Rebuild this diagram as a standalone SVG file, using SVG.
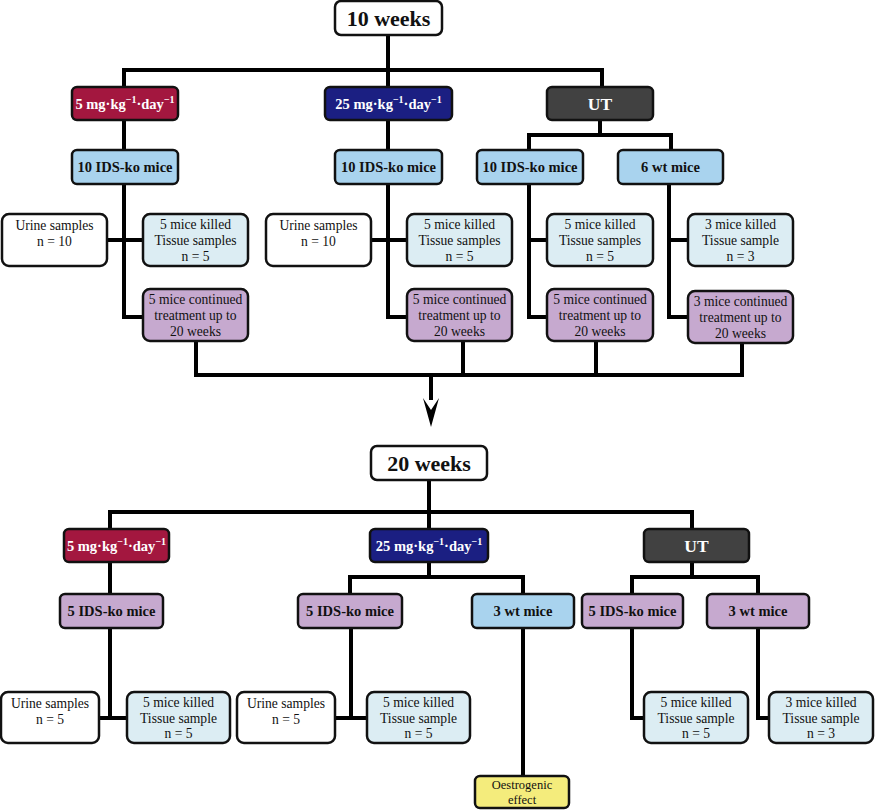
<svg xmlns="http://www.w3.org/2000/svg" width="875" height="810" viewBox="0 0 875 810">
<defs>
<style>
.n{stroke:#111;stroke-width:2.5}
.w{fill:#fff}.r{fill:#a3173f}.b{fill:#1b1f82}.g{fill:#414141}.lb{fill:#a9d3ee}.c{fill:#dcedf3}.p{fill:#c6a9cf}.y{fill:#f4ec7c}
text{font-family:'Liberation Serif','DejaVu Serif',serif;text-anchor:middle;fill:#111}
.h{font-weight:bold;font-size:14.5px}
.hw{font-weight:bold;font-size:14.5px;fill:#fff}
.t{font-size:13.6px}
.big{font-weight:bold;font-size:22px}
.ut{font-weight:bold;font-size:17.5px;fill:#fff}
.sm{font-size:12.5px}
.con{fill:none;stroke:#000;stroke-width:4}
</style>
</defs>

<g id="connectors">
<path class="con" d="M388,35V70M124,87V70H602V87M388,70V87"/>
<path class="con" d="M124,120V150M388,120V150M600,120V135M529,150V135H671V150"/>
<path class="con" d="M124,184V317H143M107,240H143"/>
<path class="con" d="M388,184V317H407M371,240H407"/>
<path class="con" d="M529,184V317H547M529,240H547"/>
<path class="con" d="M669,184V317H688M669,240H688"/>
<path class="con" d="M196,341V375H742V343M463,341V375M596,341V375"/>
<path class="con" d="M431,375V400"/>
<path d="M423,398 L431,410 L439,398 L431,427 Z" fill="#000"/>
<path class="con" d="M429,480V512M110,529V512H692V529M429,512V529"/>
<path class="con" d="M110,562V594M429,562V577M350,594V577H523V594M692,562V577M632,594V577H758V594"/>
<path class="con" d="M110,628V718H127M99,718H127"/>
<path class="con" d="M351,628V718H367M335,718H367"/>
<path class="con" d="M523,628V776"/>
<path class="con" d="M632,628V718H644M758,628V718H769"/>
</g>

<g id="w10"><rect class="n w" x="335" y="1" width="107" height="34" rx="6"/><text class="big" x="388.5" y="26">10 weeks</text></g>

<g id="d5a"><rect class="n r" x="72" y="87" width="106" height="33" rx="5"/><text class="hw" x="125" y="109">5 mg·kg<tspan dy="-6" font-size="10">−1</tspan><tspan dy="6">·day</tspan><tspan dy="-6" font-size="10">−1</tspan></text></g>
<g id="d25a"><rect class="n b" x="325" y="87" width="127" height="33" rx="5"/><text class="hw" x="388.5" y="109">25 mg·kg<tspan dy="-6" font-size="10">−1</tspan><tspan dy="6">·day</tspan><tspan dy="-6" font-size="10">−1</tspan></text></g>
<g id="uta"><rect class="n g" x="547" y="87" width="106" height="33" rx="5"/><text class="ut" x="600" y="110">UT</text></g>

<g id="ko1"><rect class="n lb" x="72" y="150" width="106" height="34" rx="5"/><text class="h" x="125" y="172">10 IDS-ko mice</text></g>
<g id="ko2"><rect class="n lb" x="335" y="150" width="107" height="34" rx="5"/><text class="h" x="388.5" y="172">10 IDS-ko mice</text></g>
<g id="ko3"><rect class="n lb" x="477" y="150" width="106" height="34" rx="5"/><text class="h" x="530" y="172">10 IDS-ko mice</text></g>
<g id="wt6"><rect class="n lb" x="618" y="150" width="105" height="34" rx="5"/><text class="h" x="670.5" y="172">6 wt mice</text></g>

<g id="u1"><rect class="n w" x="2" y="214" width="105" height="52" rx="7"/><text class="t" x="54.5" y="230">Urine samples<tspan x="54.5" dy="16">n = 10</tspan></text></g>
<g id="k1"><rect class="n c" x="143" y="214" width="105" height="52" rx="7"/><text class="t" x="195.5" y="229">5 mice killed<tspan x="195.5" dy="16">Tissue samples</tspan><tspan x="195.5" dy="15.5">n = 5</tspan></text></g>
<g id="u2"><rect class="n w" x="266" y="214" width="105" height="52" rx="7"/><text class="t" x="318.5" y="230">Urine samples<tspan x="318.5" dy="16">n = 10</tspan></text></g>
<g id="k2"><rect class="n c" x="407" y="214" width="105" height="52" rx="7"/><text class="t" x="459.5" y="229">5 mice killed<tspan x="459.5" dy="16">Tissue samples</tspan><tspan x="459.5" dy="15.5">n = 5</tspan></text></g>
<g id="k3"><rect class="n c" x="547" y="214" width="106" height="52" rx="7"/><text class="t" x="600" y="229">5 mice killed<tspan x="600" dy="16">Tissue samples</tspan><tspan x="600" dy="15.5">n = 5</tspan></text></g>
<g id="k4"><rect class="n c" x="688" y="214" width="105" height="52" rx="7"/><text class="t" x="740.5" y="229">3 mice killed<tspan x="740.5" dy="16">Tissue sample</tspan><tspan x="740.5" dy="15.5">n = 3</tspan></text></g>

<g id="c1"><rect class="n p" x="143" y="289" width="105" height="52" rx="7"/><text class="t" x="195.5" y="304">5 mice continued<tspan x="195.5" dy="16">treatment up to</tspan><tspan x="195.5" dy="15.5">20 weeks</tspan></text></g>
<g id="c2"><rect class="n p" x="407" y="289" width="105" height="52" rx="7"/><text class="t" x="459.5" y="304">5 mice continued<tspan x="459.5" dy="16">treatment up to</tspan><tspan x="459.5" dy="15.5">20 weeks</tspan></text></g>
<g id="c3"><rect class="n p" x="547" y="289" width="106" height="52" rx="7"/><text class="t" x="600" y="304">5 mice continued<tspan x="600" dy="16">treatment up to</tspan><tspan x="600" dy="15.5">20 weeks</tspan></text></g>
<g id="c4"><rect class="n p" x="688" y="291" width="105" height="52" rx="7"/><text class="t" x="740.5" y="306">3 mice continued<tspan x="740.5" dy="16">treatment up to</tspan><tspan x="740.5" dy="15.5">20 weeks</tspan></text></g>

<g id="w20"><rect class="n w" x="371" y="446" width="116" height="34" rx="6"/><text class="big" x="429" y="471">20 weeks</text></g>

<g id="d5b"><rect class="n r" x="64" y="529" width="105" height="33" rx="5"/><text class="hw" x="116.5" y="551">5 mg·kg<tspan dy="-6" font-size="10">−1</tspan><tspan dy="6">·day</tspan><tspan dy="-6" font-size="10">−1</tspan></text></g>
<g id="d25b"><rect class="n b" x="370" y="529" width="118" height="33" rx="5"/><text class="hw" x="429" y="551">25 mg·kg<tspan dy="-6" font-size="10">−1</tspan><tspan dy="6">·day</tspan><tspan dy="-6" font-size="10">−1</tspan></text></g>
<g id="utb"><rect class="n g" x="644" y="529" width="105" height="33" rx="5"/><text class="ut" x="696.5" y="552">UT</text></g>

<g id="ko5a"><rect class="n p" x="60" y="594" width="103" height="34" rx="5"/><text class="h" x="111.5" y="616">5 IDS-ko mice</text></g>
<g id="ko5b"><rect class="n p" x="298" y="594" width="104" height="34" rx="5"/><text class="h" x="350" y="616">5 IDS-ko mice</text></g>
<g id="wt3a"><rect class="n lb" x="472" y="594" width="102" height="34" rx="5"/><text class="h" x="523" y="616">3 wt mice</text></g>
<g id="ko5c"><rect class="n p" x="582" y="594" width="101" height="34" rx="5"/><text class="h" x="632.5" y="616">5 IDS-ko mice</text></g>
<g id="wt3b"><rect class="n p" x="707" y="594" width="102" height="34" rx="5"/><text class="h" x="758" y="616">3 wt mice</text></g>

<g id="u3"><rect class="n w" x="1" y="692" width="98" height="51" rx="7"/><text class="t" x="50" y="708">Urine samples<tspan x="50" dy="15.5">n = 5</tspan></text></g>
<g id="k5"><rect class="n c" x="127" y="692" width="103" height="51" rx="7"/><text class="t" x="178.5" y="707">5 mice killed<tspan x="178.5" dy="15.5">Tissue sample</tspan><tspan x="178.5" dy="15.5">n = 5</tspan></text></g>
<g id="u4"><rect class="n w" x="237" y="692" width="98" height="51" rx="7"/><text class="t" x="286" y="708">Urine samples<tspan x="286" dy="15.5">n = 5</tspan></text></g>
<g id="k6"><rect class="n c" x="367" y="692" width="103" height="51" rx="7"/><text class="t" x="418.5" y="707">5 mice killed<tspan x="418.5" dy="15.5">Tissue sample</tspan><tspan x="418.5" dy="15.5">n = 5</tspan></text></g>
<g id="oe"><rect class="n y" x="475" y="776" width="94" height="32" rx="5"/><text class="sm" x="522" y="789">Oestrogenic<tspan x="522" dy="14.5">effect</tspan></text></g>
<g id="k7"><rect class="n c" x="644" y="692" width="104" height="51" rx="7"/><text class="t" x="696" y="707">5 mice killed<tspan x="696" dy="15.5">Tissue sample</tspan><tspan x="696" dy="15.5">n = 5</tspan></text></g>
<g id="k8"><rect class="n c" x="769" y="692" width="104" height="51" rx="7"/><text class="t" x="821" y="707">3 mice killed<tspan x="821" dy="15.5">Tissue sample</tspan><tspan x="821" dy="15.5">n = 3</tspan></text></g>
</svg>
